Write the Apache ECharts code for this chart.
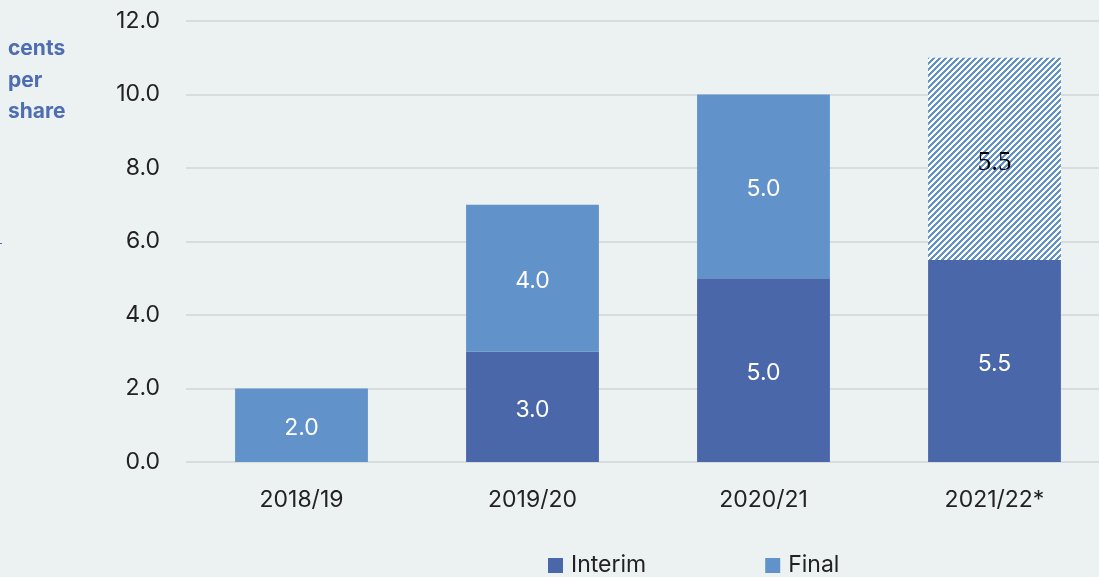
<!DOCTYPE html>
<html><head><meta charset="utf-8">
<script src="https://cdn.jsdelivr.net/npm/echarts@6/dist/echarts.min.js"></script>
<style>html,body{margin:0;padding:0;background:#ECF1F1;}#c{width:1099px;height:577px;}</style>
</head><body><div id="c"></div>
<script>
const categories = ['2018/19', '2019/20', '2020/21', '2021/22*'];
const interimValues = [null, 3.0, 5.0, 5.5];
const finalValues = [2.0, 4.0, 5.0, 5.5];
const forecastIndex = 3;
const yTicks = { min: 0, max: 12, interval: 2 };

const dark = '#4A67AA', light = '#6192C9';
function hatch() {
  const s = 6;
  const c = document.createElement('canvas');
  c.width = s; c.height = s;
  const g = c.getContext('2d');
  for (let x = 0; x < s; x++) for (let y = 0; y < s; y++) {
    g.fillStyle = ((x + y) % s) < 3 ? light : '#ffffff';
    g.fillRect(x, y, 1, 1);
  }
  return c;
}
const fontFam = 'Inter, Roboto, sans-serif';
const fs = 23;
const finalData = finalValues.map((v, i) => i === forecastIndex ? {
  value: v,
  itemStyle: { color: { image: hatch(), repeat: 'repeat' } },
  label: { color: '#000', fontFamily: '"Liberation Serif", serif', fontSize: 27, offset: [0, 4] }
} : v);

const chart = echarts.init(document.getElementById('c'));
chart.setOption({
  backgroundColor: '#ECF1F1',
  animation: false,
  title: {
    text: 'cents\nper\nshare', left: 3, top: 28,
    textStyle: { color: '#4F6DB3', fontSize: 21, fontWeight: 'bold', fontFamily: fontFam, lineHeight: 31.5 }
  },
  legend: {
    bottom: -5, left: 543, itemWidth: 15, itemHeight: 15, itemGap: 119,
    icon: 'rect',
    textStyle: { fontSize: fs, color: '#222', fontFamily: fontFam, padding: [0, 0, 0, 3] },
    data: [{ name: 'Interim', itemStyle: { color: dark } }, { name: 'Final', itemStyle: { color: light } }]
  },
  grid: { left: 186, right: -11, top: 21, bottom: 115, containLabel: false, outerBoundsMode: 'none' },
  xAxis: {
    type: 'category', data: categories,
    axisLine: { show: false }, axisTick: { show: false },
    axisLabel: { fontSize: fs, color: '#222', fontFamily: fontFam, margin: 27 }
  },
  yAxis: {
    type: 'value', min: yTicks.min, max: yTicks.max, interval: yTicks.interval,
    axisLine: { show: false }, axisTick: { show: false },
    splitLine: { lineStyle: { color: '#D9DCDC', width: 2 } },
    axisLabel: { fontSize: fs, color: '#222', fontFamily: fontFam, margin: 26, formatter: v => v.toFixed(1) }
  },
  series: [
    {
      name: 'Interim', type: 'bar', stack: 'a', barWidth: '57.5%', data: interimValues,
      itemStyle: { color: dark },
      label: { show: true, position: 'inside', offset: [0, 3], color: '#fff', fontSize: fs, fontFamily: fontFam, formatter: p => p.value.toFixed(1) }
    },
    {
      name: 'Final', type: 'bar', stack: 'a', barWidth: '57.5%', data: finalData,
      itemStyle: { color: light },
      label: { show: true, position: 'inside', offset: [0, 3], color: '#fff', fontSize: fs, fontFamily: fontFam, formatter: p => Number(p.value).toFixed(1) }
    }
  ],
  graphic: [{ type: 'rect', left: 0, top: 243, shape: { width: 2, height: 1 }, style: { fill: '#4F6DB3' } }]
});
</script></body></html>
